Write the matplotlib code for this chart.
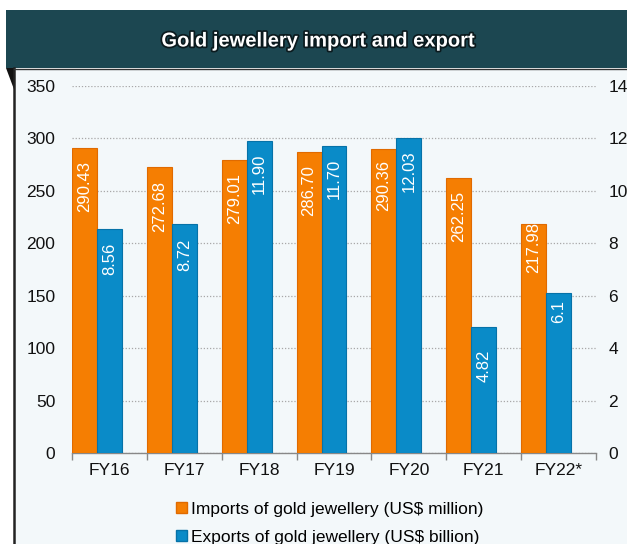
import numpy as np
import matplotlib.pyplot as plt
from matplotlib.patches import Rectangle, Polygon, Patch
import matplotlib.patheffects as pe
from matplotlib.lines import Line2D

plt.rcParams['font.family'] = ['Liberation Sans', 'DejaVu Sans']

anos = ['FY16', 'FY17', 'FY18', 'FY19', 'FY20', 'FY21', 'FY22*']
importacoes = [290.43, 272.68, 279.01, 286.70, 290.36, 262.25, 217.98]
exportacoes = [8.56, 8.72, 11.90, 11.70, 12.03, 4.82, 6.1]
rotulos_imp = ['290.43', '272.68', '279.01', '286.70', '290.36', '262.25', '217.98']
rotulos_exp = ['8.56', '8.72', '11.90', '11.70', '12.03', '4.82', '6.1']
legenda = ['Imports of gold jewellery (US$ million)',
           'Exports of gold jewellery (US$ billion)']

# distancia do topo da barra ate o texto (pontos)
desloc_imp = [-9, -10, -9, -9, -8, -9, 1.5]
desloc_exp = [-10, -10, -9, -9, -9, -16.5, -5]

laranja = '#f57e02'
azul = '#0a8bc8'
W, H = 627, 544

fig = plt.figure(figsize=(6.27, 5.44), dpi=100)
fig.patch.set_facecolor('white')

def fx(px):
    return px / W

def fy(py):
    return 1 - py / H

# painel e cabecalho (atras dos eixos)
fig.patches.append(Rectangle((fx(14), 0), 1, fy(70), transform=fig.transFigure,
                             facecolor='#f3f8fa', edgecolor='none', zorder=-5))
fig.patches.append(Rectangle((fx(6), fy(68)), 1, (58) / H, transform=fig.transFigure,
                             facecolor='#1c4751', edgecolor='none', zorder=-4))
fig.patches.append(Polygon([(fx(6), fy(68)), (fx(15), fy(68)), (fx(15), fy(92))],
                           closed=True, transform=fig.transFigure,
                           facecolor='#111111', edgecolor='none', zorder=-4))
fig.lines.append(Line2D([fx(14), fx(14)], [0, fy(68)], transform=fig.transFigure,
                        color='#222222', lw=1.8, zorder=-3))
fig.lines.append(Line2D([fx(14), 1], [fy(69.5), fy(69.5)], transform=fig.transFigure,
                        color='#333333', lw=1.0, zorder=-3))

fig.text(fx(318), fy(41), 'Gold jewellery import and export', color='white',
         fontsize=14.5, fontweight='bold', ha='center', va='center',
         path_effects=[pe.withStroke(linewidth=2.5, foreground='#0b1a1e')])

ax = fig.add_axes([fx(72), fy(453), fx(596) - fx(72), (453 - 86) / H])
ax.set_facecolor('none')
ax2 = ax.twinx()
ax2.set_facecolor('none')

x = np.arange(len(anos))
largura = 1 / 3

barras_imp = ax.bar(x - largura, importacoes, largura, color=laranja,
                    edgecolor='#e06a00', linewidth=0.8, zorder=3)
barras_exp = ax2.bar(x, exportacoes, largura, color=azul,
                     edgecolor='#0672a8', linewidth=0.8, zorder=3)

for barra, txt, d in zip(barras_imp, rotulos_imp, desloc_imp):
    t = ax.annotate(txt, (barra.get_x() + barra.get_width() / 2, barra.get_height()),
                    xytext=(0, d), textcoords='offset points', rotation=90,
                    ha='center', va='top', color='white', fontsize=12, zorder=4)
    t.set_clip_path(barra)

for barra, txt, d in zip(barras_exp, rotulos_exp, desloc_exp):
    ax2.annotate(txt, (barra.get_x() + barra.get_width() / 2, barra.get_height()),
                 xytext=(0, d), textcoords='offset points', rotation=90,
                 ha='center', va='top', color='white', fontsize=12, zorder=4)

ax.set_xlim(-0.5, len(anos) - 0.5)
ax.set_ylim(0, 350)
ax2.set_ylim(0, 14)
ax.set_yticks(np.arange(0, 351, 50))
ax2.set_yticks(np.arange(0, 15, 2))

ax.yaxis.grid(True, linestyle=(0, (1, 1.5)), color='#a8a8a8', linewidth=0.9, zorder=0)
ax.set_axisbelow(True)

ax.set_xticks(x)
ax.set_xticklabels(anos)
ax.set_xticks(np.arange(-0.5, len(anos)), minor=True)
ax.tick_params(axis='x', which='major', length=0, pad=7, labelsize=12.5, labelcolor='#111111')
ax.tick_params(axis='x', which='minor', length=5, color='#888888', width=1)
ax.tick_params(axis='y', length=0, pad=12, labelsize=12.5, labelcolor='#111111')
ax2.tick_params(axis='y', length=0, pad=9, labelsize=12.5, labelcolor='#111111')

for a in (ax, ax2):
    for lado in ('top', 'left', 'right'):
        a.spines[lado].set_visible(False)
    a.spines['bottom'].set_color('#888888')
    a.spines['bottom'].set_linewidth(1.0)
ax2.spines['bottom'].set_visible(False)

handles = [Patch(facecolor=laranja, edgecolor='#e06a00'),
           Patch(facecolor=azul, edgecolor='#0672a8')]
fig.legend(handles, legenda, loc='center', bbox_to_anchor=(fx(330), fy(523.5)),
           frameon=False, fontsize=12.5, handlelength=0.6, handleheight=0.6,
           handletextpad=0.25, labelspacing=0.75, borderpad=0)

plt.savefig('out.png', dpi=100)
